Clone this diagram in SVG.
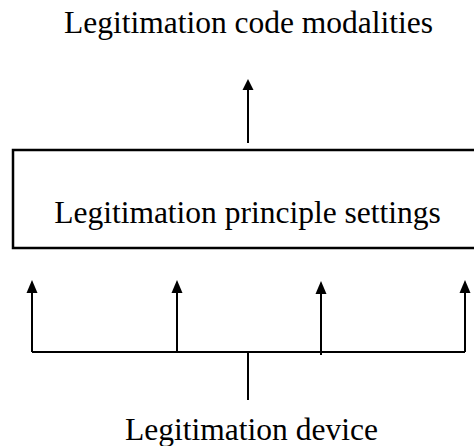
<svg xmlns="http://www.w3.org/2000/svg" width="474" height="446" viewBox="0 0 474 446">
  <style>
    .label { font-family: "Liberation Serif", "Times New Roman", serif; font-size: 31.5px; fill: #000; text-anchor: middle; }
    .line { stroke: #000; stroke-width: 2; fill: none; }
    .box { stroke: #000; stroke-width: 2.5; fill: #fff; }
    .head { fill: #000; }
  </style>
  <rect width="474" height="446" fill="#fff"/>

  <g id="code-modalities">
    <text class="label" x="248.5" y="33">Legitimation code modalities</text>
  </g>

  <g id="principle-settings">
    <rect class="box" x="13" y="150" width="470" height="98"/>
    <text class="label" x="247.5" y="223">Legitimation principle settings</text>
  </g>

  <g id="device">
    <text class="label" x="251.5" y="440">Legitimation device</text>
  </g>

  <g id="connectors">
    <!-- settings up to modalities -->
    <line class="line" x1="248" y1="143" x2="248" y2="87"/>
    <polygon class="head" points="248,79 242.5,90 253.5,90"/>

    <!-- device up to settings via a bus -->
    <line class="line" x1="248" y1="400" x2="248" y2="352"/>
    <line class="line" x1="32" y1="352" x2="465" y2="352"/>
    <line class="line" x1="32" y1="352" x2="32" y2="290"/>
    <line class="line" x1="177" y1="352" x2="177" y2="290"/>
    <line class="line" x1="321" y1="355" x2="321" y2="290"/>
    <line class="line" x1="465" y1="352" x2="465" y2="290"/>
    <polygon class="head" points="32,280 26.5,293 37.5,293"/>
    <polygon class="head" points="177,280 171.5,293 182.5,293"/>
    <polygon class="head" points="321,281 315.5,294 326.5,294"/>
    <polygon class="head" points="465,280 459.5,293 470.5,293"/>
  </g>
</svg>
